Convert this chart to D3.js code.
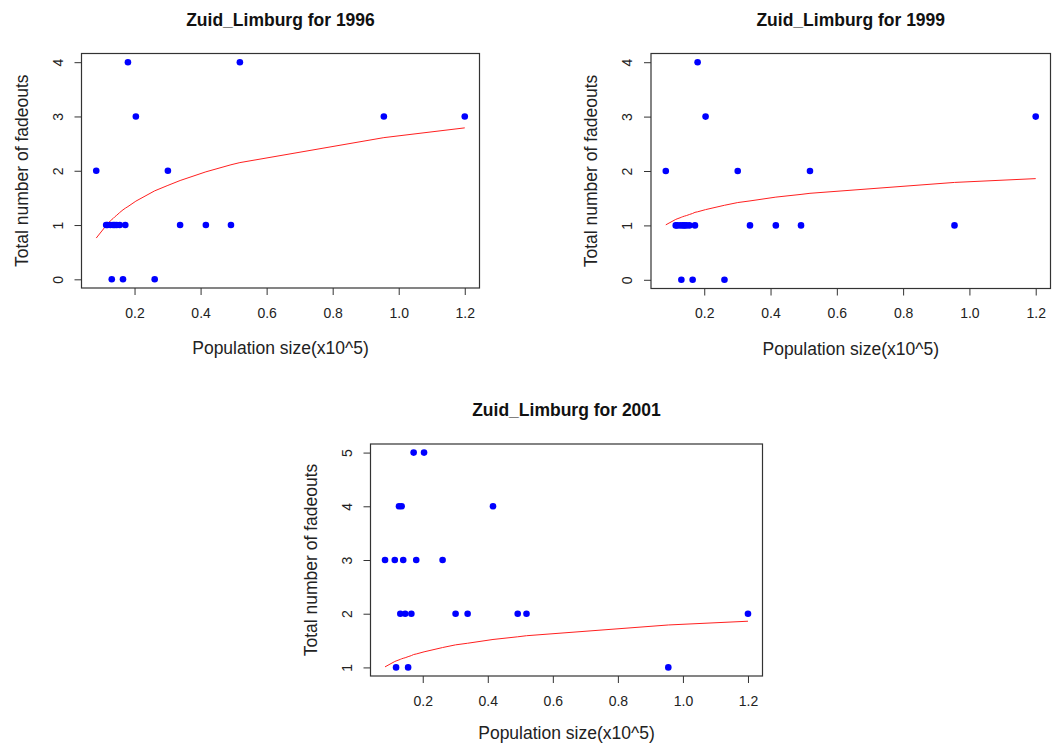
<!DOCTYPE html>
<html>
<head>
<meta charset="utf-8">
<script src="https://cdn.jsdelivr.net/npm/d3@7/dist/d3.min.js"></script>
<style>
  html, body { margin: 0; padding: 0; background: #fff; }
  svg { display: block; font-family: "Liberation Sans", Arial, sans-serif; }
</style>
</head>
<body>
<svg id="chart" width="1053" height="745"></svg>
<script>
// Population size of each municipality (x10^5)
const popSize = [0.084, 0.114, 0.118, 0.127, 0.131, 0.135, 0.140, 0.146, 0.155, 0.165, 0.172,
                 0.180, 0.204, 0.261, 0.301, 0.338, 0.416, 0.492, 0.519, 0.955, 1.200];

// Total number of fadeouts per municipality
const fade1996 = [2, 1, 1, 1, 0, 1, 1, 1, 1, 0, 1, 4, 3, 0, 2, 1, 1, 1, 4, 3, 3];
const fade1999 = [2, 1, 1, 1, 0, 1, 1, 1, 1, 0, 1, 4, 3, 0, 2, 1, 1, 1, 2, 1, 3];
const fade2001 = [3, 3, 1, 4, 2, 4, 3, 2, 1, 2, 5, 3, 5, 3, 2, 2, 4, 2, 2, 1, 2];

// Fitted (log model) values at each population size
const fit1996 = [0.76, 0.99, 1.02, 1.08, 1.10, 1.12, 1.15, 1.18, 1.23, 1.28, 1.31,
                 1.34, 1.44, 1.63, 1.73, 1.82, 1.98, 2.11, 2.15, 2.61, 2.79];
const fit1999 = [1.01, 1.11, 1.12, 1.14, 1.15, 1.16, 1.17, 1.18, 1.20, 1.22, 1.24,
                 1.25, 1.29, 1.37, 1.42, 1.45, 1.52, 1.57, 1.59, 1.79, 1.86];
const fit2001 = [1.01, 1.11, 1.12, 1.14, 1.15, 1.16, 1.17, 1.18, 1.20, 1.22, 1.24,
                 1.25, 1.29, 1.37, 1.42, 1.45, 1.52, 1.57, 1.59, 1.79, 1.86];

const xTicks = [0.2, 0.4, 0.6, 0.8, 1.0, 1.2];
const yTicks1996 = [0, 1, 2, 3, 4];
const yTicks1999 = [0, 1, 2, 3, 4];
const yTicks2001 = [1, 2, 3, 4, 5];

const panels = [
  { title: "Zuid_Limburg for 1996", y: fade1996, fit: fit1996, yTicks: yTicks1996,
    box: { left: 81.5, right: 479.5, top: 53.5, bottom: 288 }, xTitleGap: 66 },
  { title: "Zuid_Limburg for 1999", y: fade1999, fit: fit1999, yTicks: yTicks1999,
    box: { left: 651, right: 1050.5, top: 53.5, bottom: 288.5 }, xTitleGap: 66 },
  { title: "Zuid_Limburg for 2001", y: fade2001, fit: fit2001, yTicks: yTicks2001,
    box: { left: 370.5, right: 762.5, top: 444, bottom: 676 }, xTitleGap: 63 }
];

const svg = d3.select("#chart");

// R-style 4% padding on the data range
function padded(ext) {
  const d = (ext[1] - ext[0]) * 0.04;
  return [ext[0] - d, ext[1] + d];
}

panels.forEach(p => {
  const b = p.box;
  const g = svg.append("g");

  const x = d3.scaleLinear().domain(padded(d3.extent(popSize))).range([b.left, b.right]);
  const y = d3.scaleLinear().domain(padded(d3.extent(p.y))).range([b.bottom, b.top]);

  // x axis
  const xa = g.append("g")
    .attr("transform", `translate(0,${b.bottom})`)
    .call(d3.axisBottom(x).tickValues(xTicks).tickFormat(d3.format(".1f"))
      .tickSize(7).tickPadding(13));
  xa.select(".domain").remove();
  xa.selectAll(".tick line").attr("stroke", "#333");
  xa.selectAll(".tick text").attr("font-size", 14).attr("fill", "#222")
    .attr("font-family", "Liberation Sans, Arial, sans-serif");

  // y axis, labels parallel to the axis
  const ya = g.append("g")
    .attr("transform", `translate(${b.left},0)`)
    .call(d3.axisLeft(y).tickValues(p.yTicks).tickFormat(d3.format("d"))
      .tickSize(7).tickPadding(0));
  ya.select(".domain").remove();
  ya.selectAll(".tick line").attr("stroke", "#333");
  ya.selectAll(".tick text").attr("font-size", 14).attr("fill", "#222")
    .attr("font-family", "Liberation Sans, Arial, sans-serif")
    .attr("x", null).attr("dy", null)
    .attr("text-anchor", "middle")
    .attr("transform", "translate(-24,0) rotate(-90)")
    .attr("dominant-baseline", "central");

  // plot frame
  g.append("rect")
    .attr("x", b.left).attr("y", b.top)
    .attr("width", b.right - b.left).attr("height", b.bottom - b.top)
    .attr("fill", "none").attr("stroke", "#333").attr("stroke-width", 1.2);

  // fitted curve
  const line = d3.line().x((d, i) => x(popSize[i])).y(d => y(d));
  g.append("path").datum(p.fit)
    .attr("d", line)
    .attr("fill", "none").attr("stroke", "#ff2020").attr("stroke-width", 1);

  // points
  g.selectAll("circle").data(p.y).join("circle")
    .attr("cx", (d, i) => x(popSize[i]))
    .attr("cy", d => y(d))
    .attr("r", 3.3)
    .attr("fill", "#0000ff");

  // titles
  g.append("text")
    .attr("x", (b.left + b.right) / 2).attr("y", b.top - 28)
    .attr("text-anchor", "middle")
    .attr("font-size", 17.5).attr("font-weight", "bold").attr("fill", "#111")
    .text(p.title);

  g.append("text")
    .attr("x", (b.left + b.right) / 2).attr("y", b.bottom + p.xTitleGap)
    .attr("text-anchor", "middle")
    .attr("font-size", 17.5).attr("fill", "#222")
    .text("Population size(x10^5)");

  g.append("text")
    .attr("transform", `translate(${b.left - 54},${(b.top + b.bottom) / 2}) rotate(-90)`)
    .attr("text-anchor", "middle")
    .attr("font-size", 17.5).attr("fill", "#222")
    .text("Total number of fadeouts");
});
</script>
</body>
</html>
